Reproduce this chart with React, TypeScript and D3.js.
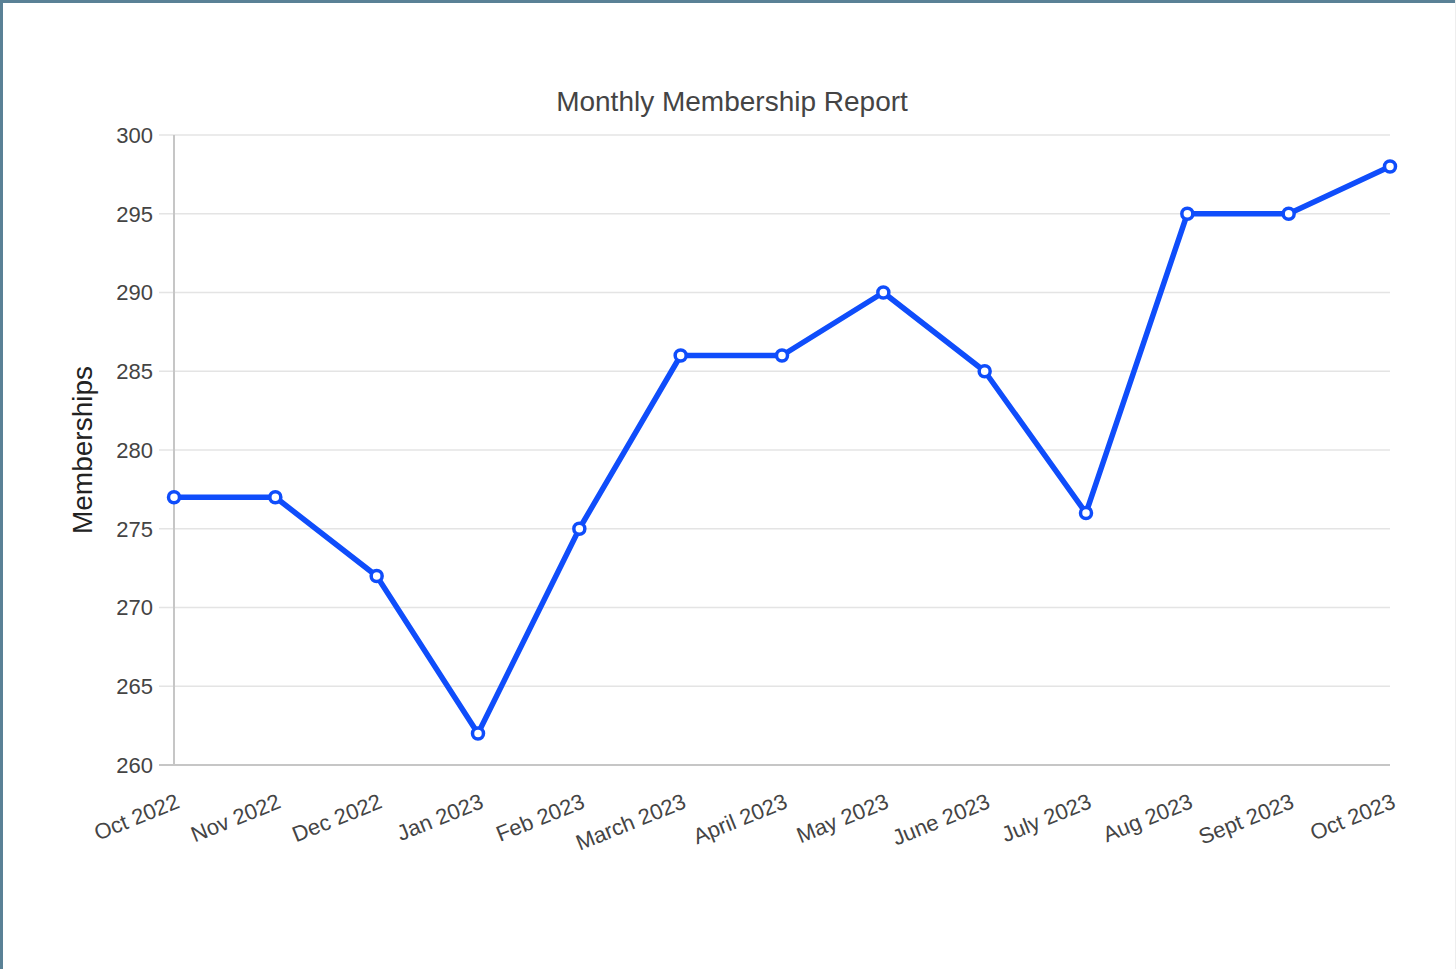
import { useEffect, useRef } from "react";
import * as d3 from "d3";

const months = [
  "Oct 2022", "Nov 2022", "Dec 2022", "Jan 2023", "Feb 2023", "March 2023",
  "April 2023", "May 2023", "June 2023", "July 2023", "Aug 2023", "Sept 2023", "Oct 2023",
];
const memberships = [277, 277, 272, 262, 275, 286, 286, 290, 285, 276, 295, 295, 298];
const yTicks = [260, 265, 270, 275, 280, 285, 290, 295, 300];

const W = 1456;
const H = 969;
const FONT = "'Liberation Sans', Arial, sans-serif";
const BLUE = "#0f4dfb";

export default function App() {
  const svgRef = useRef<SVGSVGElement>(null);

  useEffect(() => {
    if (!svgRef.current) return;
    const svg = d3.select(svgRef.current);
    svg.selectAll("*").remove();

    const left = 174;
    const right = 1390;
    const top = 135;
    const bottom = 765;

    const x = d3.scalePoint<string>().domain(months).range([left, right]);
    const y = d3.scaleLinear().domain([260, 300]).range([bottom, top]);

    // background + frame
    svg.append("rect").attr("width", W).attr("height", H).attr("fill", "#ffffff");
    svg.append("rect").attr("x", 0).attr("y", 0).attr("width", W).attr("height", 3).attr("fill", "#5a8196");
    svg.append("rect").attr("x", 0).attr("y", 0).attr("width", 3).attr("height", H).attr("fill", "#5a8196");
    svg.append("rect").attr("x", W - 1).attr("y", 0).attr("width", 1).attr("height", H).attr("fill", "#eeeeee");

    // grid
    svg.append("g")
      .selectAll("line")
      .data(yTicks.filter((t) => t !== 260))
      .enter()
      .append("line")
      .attr("x1", left - 15)
      .attr("x2", right)
      .attr("y1", (d) => y(d))
      .attr("y2", (d) => y(d))
      .attr("stroke", "#e4e4e4")
      .attr("stroke-width", 1.5);

    // axes lines
    svg.append("line")
      .attr("x1", left - 15).attr("x2", right)
      .attr("y1", bottom).attr("y2", bottom)
      .attr("stroke", "#c6c6c6").attr("stroke-width", 2);
    svg.append("line")
      .attr("x1", left).attr("x2", left)
      .attr("y1", top).attr("y2", bottom)
      .attr("stroke", "#c6c6c6").attr("stroke-width", 2);

    // y tick labels
    svg.append("g")
      .selectAll("text")
      .data(yTicks)
      .enter()
      .append("text")
      .attr("x", left - 21)
      .attr("y", (d) => y(d))
      .attr("dy", "0.36em")
      .attr("text-anchor", "end")
      .attr("font-family", FONT)
      .attr("font-size", 22)
      .attr("fill", "#444")
      .text((d) => d);

    // x tick labels
    svg.append("g")
      .selectAll("text")
      .data(months)
      .enter()
      .append("text")
      .attr("transform", (d) => `translate(${(x(d) ?? 0) + 1},${bottom + 28}) rotate(-22)`)
      .attr("dy", "0.7em")
      .attr("text-anchor", "end")
      .attr("font-family", FONT)
      .attr("font-size", 22)
      .attr("fill", "#444")
      .text((d) => d);

    // y axis title
    svg.append("text")
      .attr("transform", `translate(92,${(top + bottom) / 2}) rotate(-90)`)
      .attr("text-anchor", "middle")
      .attr("font-family", FONT)
      .attr("font-size", 28)
      .attr("fill", "#222")
      .text("Memberships");

    // title
    svg.append("text")
      .attr("x", 732)
      .attr("y", 111)
      .attr("text-anchor", "middle")
      .attr("font-family", FONT)
      .attr("font-size", 28)
      .attr("fill", "#444")
      .text("Monthly Membership Report");

    // line
    const line = d3
      .line<number>()
      .x((_, i) => x(months[i]) ?? 0)
      .y((d) => y(d));

    svg.append("path")
      .datum(memberships)
      .attr("d", line)
      .attr("fill", "none")
      .attr("stroke", BLUE)
      .attr("stroke-width", 5.5)
      .attr("stroke-linejoin", "round");

    svg.append("g")
      .selectAll("circle")
      .data(memberships)
      .enter()
      .append("circle")
      .attr("cx", (_, i) => x(months[i]) ?? 0)
      .attr("cy", (d) => y(d))
      .attr("r", 5.5)
      .attr("fill", "#fff")
      .attr("stroke", BLUE)
      .attr("stroke-width", 3.5);
  }, []);

  return (
    <div style={{ position: "absolute", left: 0, top: 0 }}>
      <svg ref={svgRef} width={W} height={H} style={{ display: "block" }} />
    </div>
  );
}
